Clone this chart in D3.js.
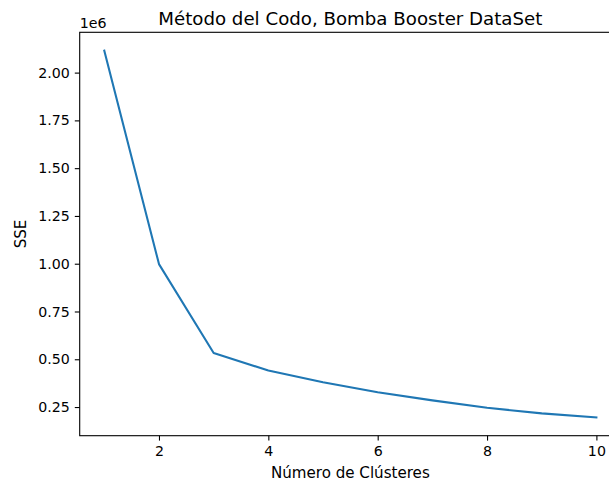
<!DOCTYPE html>
<html>
<head>
<meta charset="utf-8">
<script src="https://cdn.jsdelivr.net/npm/d3@7"></script>
<style>
  html, body { margin: 0; padding: 0; background: #fff; overflow: hidden; }
  text { font-family: "DejaVu Sans", sans-serif; fill: #000; }
</style>
</head>
<body>
<div id="chart"></div>
<script>
// Elbow method data (k vs SSE)
const clusters = [1, 2, 3, 4, 5, 6, 7, 8, 9, 10];
const sse = [2115000, 998000, 533000, 441000, 380000, 327000, 285000, 246000, 217000, 196000];
const yTicks = [250000, 500000, 750000, 1000000, 1250000, 1500000, 1750000, 2000000];
const xTicks = [2, 4, 6, 8, 10];

const width = 609;
const height = 482;
const marginLeft = 79.7;
const marginTop = 32.3;
const plotRight = 621;      // right spine falls just past the window edge
const plotBottom = 435.7;

const data = clusters.map((k, i) => ({ k: k, v: sse[i] }));

// matplotlib style 5% margins
const xPad = (d3.max(clusters) - d3.min(clusters)) * 0.05;
const yPad = (d3.max(sse) - d3.min(sse)) * 0.05;

const x = d3.scaleLinear()
    .domain([d3.min(clusters) - xPad, d3.max(clusters) + xPad])
    .range([marginLeft, plotRight]);

const y = d3.scaleLinear()
    .domain([d3.min(sse) - yPad, d3.max(sse) + yPad])
    .range([plotBottom, marginTop]);

const svg = d3.select("#chart").append("svg")
    .attr("width", width)
    .attr("height", height)
    .attr("viewBox", [0, 0, width, height]);

// Line
svg.append("path")
    .datum(data)
    .attr("fill", "none")
    .attr("stroke", "#1f77b4")
    .attr("stroke-width", 2.08)
    .attr("stroke-linejoin", "round")
    .attr("stroke-linecap", "square")
    .attr("d", d3.line().x(d => x(d.k)).y(d => y(d.v)));

// X axis
svg.append("g")
    .attr("transform", `translate(0,${plotBottom})`)
    .call(d3.axisBottom(x).tickValues(xTicks).tickFormat(d3.format("d")).tickSize(4.9).tickPadding(4.9).tickSizeOuter(0))
    .call(g => g.select(".domain").remove())
    .call(g => g.selectAll(".tick line").attr("stroke", "#000").attr("stroke-width", 1.1))
    .call(g => g.selectAll(".tick text").attr("font-size", 14.2).attr("font-family", "DejaVu Sans"));

// Y axis
svg.append("g")
    .attr("transform", `translate(${marginLeft},0)`)
    .call(d3.axisLeft(y).tickValues(yTicks).tickFormat(d => (d / 1e6).toFixed(2)).tickSize(4.9).tickPadding(4.9).tickSizeOuter(0))
    .call(g => g.select(".domain").remove())
    .call(g => g.selectAll(".tick line").attr("stroke", "#000").attr("stroke-width", 1.1))
    .call(g => g.selectAll(".tick text").attr("font-size", 14.2).attr("font-family", "DejaVu Sans"));

// Spines
svg.append("rect")
    .attr("x", marginLeft)
    .attr("y", marginTop)
    .attr("width", plotRight - marginLeft)
    .attr("height", plotBottom - marginTop)
    .attr("fill", "none")
    .attr("stroke", "#000")
    .attr("stroke-width", 1.1);

// Offset text
svg.append("text")
    .attr("x", marginLeft)
    .attr("y", marginTop - 4)
    .attr("font-size", 14.2)
    .text("1e6");

// Title
svg.append("text")
    .attr("x", (marginLeft + plotRight) / 2)
    .attr("y", 24.5)
    .attr("text-anchor", "middle")
    .attr("font-size", 18.2)
    .text("Método del Codo, Bomba Booster DataSet");

// Axis labels
svg.append("text")
    .attr("x", (marginLeft + plotRight) / 2)
    .attr("y", 477.5)
    .attr("text-anchor", "middle")
    .attr("font-size", 15.1)
    .text("Número de Clústeres");

svg.append("text")
    .attr("transform", `translate(26,${(marginTop + plotBottom) / 2}) rotate(-90)`)
    .attr("text-anchor", "middle")
    .attr("font-size", 15.1)
    .text("SSE");
</script>
</body>
</html>
